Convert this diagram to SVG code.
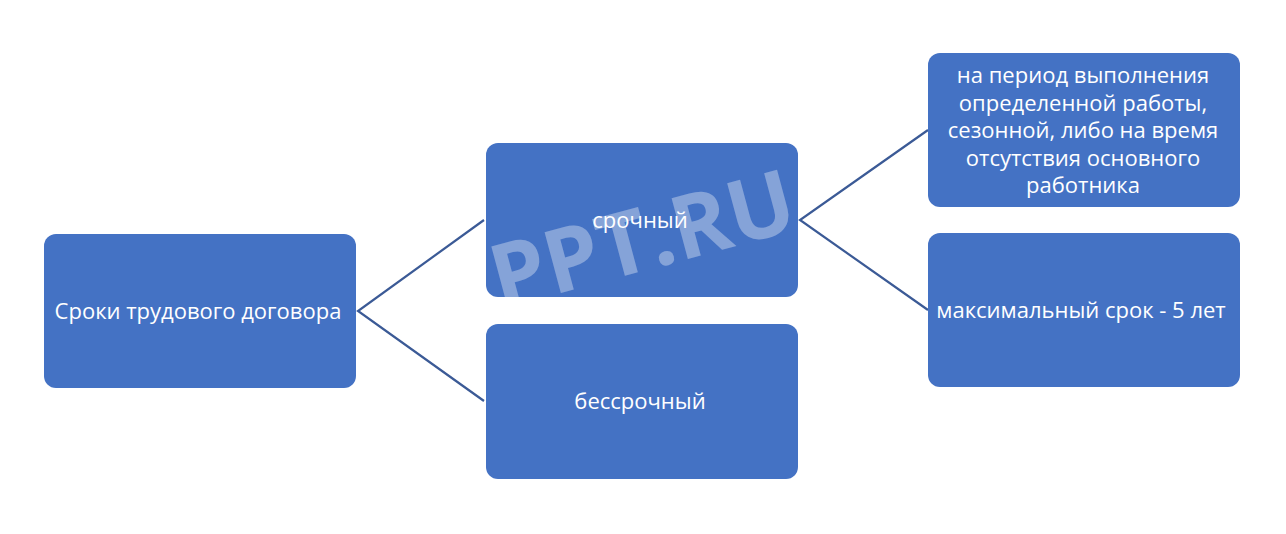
<svg xmlns="http://www.w3.org/2000/svg" width="1286" height="534" viewBox="0 0 1286 534">
<style>
.box{fill:#4472C4;}
.lbl{font-family:"Open Sans","Liberation Sans",sans-serif;font-size:22px;fill:#ffffff;text-anchor:middle;dominant-baseline:central;}
.conn{stroke:#3B5A96;stroke-width:2.2;fill:none;}
.wm{font-family:"Open Sans","Liberation Sans",sans-serif;font-weight:bold;font-size:88px;fill:#ffffff;fill-opacity:0.35;text-anchor:middle;}
</style>
<rect width="1286" height="534" fill="#ffffff"/>
<g id="connectors">
<path class="conn" d="M484,220 L358,311 L484,401"/>
<path class="conn" d="M928,130 L800,220 L928,310"/>
</g>
<g id="node-root">
<rect class="box" x="44" y="234" width="312" height="154" rx="12"/>
<text class="lbl" x="198" y="310">Сроки трудового договора</text>
</g>
<g id="node-srochny">
<rect class="box" x="486" y="143" width="312" height="154" rx="12"/>
<text class="lbl" x="640" y="219">срочный</text>
</g>
<g id="node-bessrochny">
<rect class="box" x="486" y="324" width="312" height="155" rx="12"/>
<text class="lbl" x="640" y="400">бессрочный</text>
</g>
<g id="node-period">
<rect class="box" x="928" y="53" width="312" height="154" rx="12"/>
<text class="lbl" x="1083" y="74">на период выполнения</text>
<text class="lbl" x="1083" y="101.5">определенной работы,</text>
<text class="lbl" x="1083" y="129">сезонной, либо на время</text>
<text class="lbl" x="1083" y="156.5">отсутствия основного</text>
<text class="lbl" x="1083" y="184">работника</text>
</g>
<g id="node-max">
<rect class="box" x="928" y="233" width="312" height="154" rx="12"/>
<text class="lbl" x="1081" y="309">максимальный срок - 5 лет</text>
</g>
<g id="watermark">
<text class="wm" x="642" y="270" transform="rotate(-15 642 238)">PPT.RU</text>
</g>
</svg>
